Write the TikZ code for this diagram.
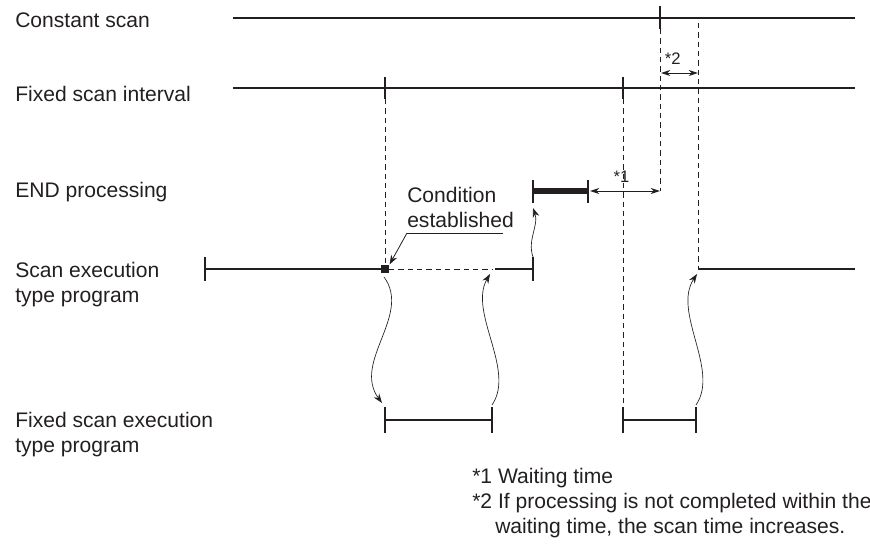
\documentclass[tikz,border=0pt]{standalone}
\usepackage{fontspec}
\setmainfont{Liberation Sans}
\usetikzlibrary{arrows.meta, positioning, calc}
\definecolor{inkgray}{RGB}{35,31,32}

\begin{document}
\begin{tikzpicture}[
  x=0.75pt, y=-0.75pt,
  lbl/.style={anchor=west, inner sep=0pt, align=left, text=inkgray,
              font=\fontsize{15.8}{18.75}\selectfont},
  star/.style={inner sep=0pt, text=inkgray, font=\fontsize{12.5}{14}\selectfont},
  tline/.style={line width=1.4pt, draw=inkgray},
  guide/.style={draw=inkgray, line width=0.7pt, dash pattern=on 4pt off 3pt},
  wave/.style={draw=inkgray, line width=0.5pt, -{Stealth[length=7pt,width=5pt]}},
  dim/.style={draw=inkgray, line width=0.7pt,
              {Stealth[length=7pt,width=4.5pt]}-{Stealth[length=7pt,width=4.5pt]}},
]
\useasboundingbox (0,0) rectangle (870,545);

% row labels
\node[lbl] (constlbl) at (15,20) {Constant scan};
\node[lbl] (fixedlbl) at (15,94) {Fixed scan interval};
\node[lbl] (endlbl) at (15,192) {END processing};
\node[lbl] (scanlbl) at (15,285) {Scan execution\\type program};
\node[lbl] (fixexlbl) at (15,435) {Fixed scan execution\\type program};

% time lines
\draw[tline] (233,18) -- (855,18);
\draw[tline] (660,6) -- (660,29);
\draw[tline] (233,88) -- (855,88);
\foreach \x in {385,623} \draw[tline] (\x,77) -- (\x,99);

% END processing
\draw[draw=inkgray, line width=4pt] (533,191) -- (588,191);
\foreach \x in {533,588} \draw[tline] (\x,180) -- (\x,203);

% scan execution type program
\draw[tline] (205,257) -- (205,281);
\draw[tline] (205,269) -- (385,269);
\draw[guide] (389,269) -- (492,269);
\draw[tline] (495,269) -- (533,269);
\draw[tline] (533,257) -- (533,281);
\draw[tline] (698,269) -- (855,269);
\node[fill=inkgray, inner sep=0pt, minimum size=6.5pt] (trig) at (385,269) {};

% fixed scan execution type program
\foreach \a/\b in {385/492,623/696}
  \draw[tline] (\a,407) -- (\a,433) (\a,420) -- (\b,420) (\b,407) -- (\b,433);

% guides
\draw[guide] (385,99) -- (trig.north);
\draw[guide] (623,99) -- (623,405);
\draw[guide] (660,29) -- (660,191);
\draw[guide] (698,23) -- (698,269);

% waiting times
\coordinate (endend) at (590,191);
\coordinate (cscan) at (660,191);
\draw[dim] (endend) -- node[star, above=6pt, pos=0.45] (w1) {*1} (cscan);
\coordinate (c2a) at (661,73);
\coordinate (c2b) at (698,73);
\draw[dim] (c2a) -- node[star, above=6pt, pos=0.32] (w2) {*2} (c2b);

% condition established
\node[lbl] (cond) at (407,207.5) {Condition\\established};
\coordinate (ul) at (407,233);
\draw[draw=inkgray, line width=0.6pt] (ul) -- (503,233);
\draw[draw=inkgray, line width=0.6pt, -{Stealth[length=7pt,width=5pt]}] (ul) -- (trig.north east);

% transitions
\coordinate (s1) at (533,257);
\coordinate (e1) at (533,208);
\draw[wave] (s1) .. controls (527,240) and (539,225) .. (e1);
\coordinate (s2) at (384,277);
\coordinate (e2) at (382,403);
\draw[wave] (s2) .. controls (412,315) and (352,362) .. (e2);
\coordinate (s3) at (492,405);
\coordinate (e3) at (490,274);
\draw[wave] (s3) .. controls (516,370) and (468,312) .. (e3);
\coordinate (s4) at (696,405);
\coordinate (e4) at (697,274);
\draw[wave] (s4) .. controls (720,370) and (672,312) .. (e4);

% notes
\node[lbl] (note1) at (472,478) {*1 Waiting time};
\node[lbl] (note2) at (472,503) {*2 If processing is not completed within the};
\node[lbl] (note3) at (495,528) {waiting time, the scan time increases.};
\end{tikzpicture}
\end{document}
